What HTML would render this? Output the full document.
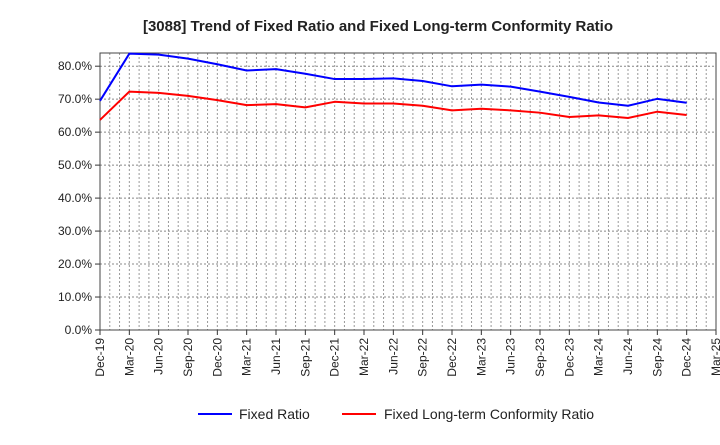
<!DOCTYPE html>
<html><head><meta charset="utf-8"><style>
body{margin:0;background:#fff;font-family:"Liberation Sans",sans-serif;}
svg text{font-family:"Liberation Sans",sans-serif;}
</style></head><body>
<svg id="c" width="720" height="440" xmlns="http://www.w3.org/2000/svg">
<text x="378" y="31" text-anchor="middle" font-size="15" font-weight="bold" fill="#222">[3088]  Trend of Fixed Ratio and Fixed Long-term Conformity Ratio</text>
<g id="grid"></g><g id="axes"></g><g id="series"></g>
<g>
<line x1="198" y1="414" x2="232" y2="414" stroke="#0000ff" stroke-width="2"/>
<text x="239" y="419" font-size="14" fill="#222">Fixed Ratio</text>
<line x1="342" y1="414" x2="376" y2="414" stroke="#ff0000" stroke-width="2"/>
<text x="384" y="419" font-size="14" fill="#222">Fixed Long-term Conformity Ratio</text>
</g>
</svg>
<script>
const categories=["Dec-19","Mar-20","Jun-20","Sep-20","Dec-20","Mar-21","Jun-21","Sep-21","Dec-21","Mar-22","Jun-22","Sep-22","Dec-22","Mar-23","Jun-23","Sep-23","Dec-23","Mar-24","Jun-24","Sep-24","Dec-24","Mar-25"];
const fixedRatio=[69.5,83.8,83.5,82.3,80.6,78.7,79.1,77.7,76.1,76.1,76.3,75.5,73.9,74.4,73.8,72.3,70.7,69.0,68.0,70.1,68.9];
const conformityRatio=[63.7,72.3,71.9,71.0,69.7,68.2,68.5,67.5,69.2,68.7,68.7,68.0,66.6,67.1,66.6,65.9,64.6,65.1,64.3,66.2,65.2];
const yTicks=[0,10,20,30,40,50,60,70,80];
const yTickLabels=["0.0%","10.0%","20.0%","30.0%","40.0%","50.0%","60.0%","70.0%","80.0%"];
const L=100,R=716,T=53,B=330,YMAX=84;
const NS="http://www.w3.org/2000/svg";
const xs=i=>L+i*(R-L)/(categories.length-1);
const ys=v=>B-v*(B-T)/YMAX;
function mk(tag,attrs,parent){const e=document.createElementNS(NS,tag);for(const k in attrs)e.setAttribute(k,attrs[k]);document.getElementById(parent).appendChild(e);return e;}
for(let m=1;m<(categories.length-1)*3;m++){
  const x=xs(m/3);
  const g=mk('line',{x1:x,x2:x,y1:T,y2:B,stroke:'#999','stroke-width':1,'stroke-dasharray':'2,2'},'grid');
  
  
}
categories.forEach((c,i)=>{
  const tk=mk('line',{x1:xs(i),x2:xs(i),y1:B,y2:B+5,stroke:'#333'},'axes');
  
  
  const t=mk('text',{x:0,y:0,'font-size':12,fill:'#222','text-anchor':'end',transform:`translate(${xs(i)+4},${B+8}) rotate(-90)`},'axes');
  t.textContent=c;
  
  
});
yTicks.forEach((v,i)=>{
  if(v>0){const g=mk('line',{x1:L,x2:R,y1:ys(v),y2:ys(v),stroke:'#888','stroke-width':1,'stroke-dasharray':'2,2'},'grid');
  
  }
  const tk=mk('line',{x1:L-5,x2:L,y1:ys(v),y2:ys(v),stroke:'#333'},'axes');
  
  
  const t=mk('text',{x:L-8,y:ys(v)+4,'font-size':12,fill:'#222','text-anchor':'end'},'axes');
  t.textContent=yTickLabels[i];
  
  
});
const fr=mk('rect',{x:L,y:T,width:R-L,height:B-T,fill:'none',stroke:'#444','stroke-width':1},'axes');


function line(vals,color,name){
  const p=mk('polyline',{points:vals.map((v,i)=>xs(i)+','+ys(v)).join(' '),fill:'none',stroke:color,'stroke-width':2,'stroke-linejoin':'round'},'series');
  
  
}
line(fixedRatio,'#0000ff','fixed-ratio-line');
line(conformityRatio,'#ff0000','conformity-ratio-line');
</script>
</body></html>
